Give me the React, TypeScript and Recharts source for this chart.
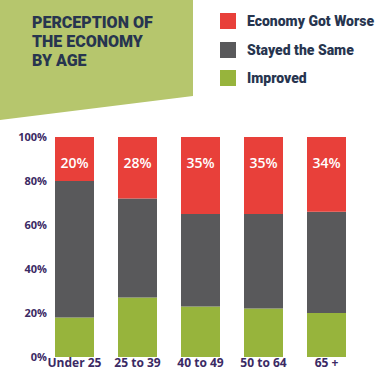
import { BarChart, Bar, XAxis, YAxis, LabelList } from 'recharts'

const ageGroups = ['Under 25', '25 to 39', '40 to 49', '50 to 64', '65 +']
const improved = [18, 27, 23, 22, 20]
const stayedSame = [62, 45, 42, 43, 46]
const gotWorse = [20, 28, 35, 35, 34]
const yTicks = [0, 20, 40, 60, 80, 100]

const legendItems = [
  { label: 'Economy Got Worse', color: '#e8403a' },
  { label: 'Stayed the Same', color: '#59595b' },
  { label: 'Improved', color: '#97b43c' },
]

const data = ageGroups.map((age, i) => ({
  age,
  improved: improved[i],
  same: stayedSame[i],
  worse: gotWorse[i],
}))

const navy = '#27354f'
const purple = '#3b2a64'

export default function App() {
  return (
    <div
      style={{
        position: 'absolute',
        left: 0,
        top: 0,
        width: 376,
        height: 371,
        background: '#fff',
        overflow: 'hidden',
      }}
    >
      {/* slanted green title panel */}
      <svg width={376} height={130} style={{ position: 'absolute', left: 0, top: 0 }}>
        <polygon points="0,0 193,0 193,96 0,120" fill="#b6c66d" />
      </svg>
      <div
        style={{
          position: 'absolute',
          left: 32,
          top: 13,
          fontFamily: 'Roboto, sans-serif',
          fontWeight: 900,
          fontSize: 16,
          lineHeight: '19px',
          color: navy,
        }}
      >
        PERCEPTION OF
        <br />
        THE ECONOMY
        <br />
        BY AGE
      </div>

      {legendItems.map((item, i) => (
        <div
          key={item.label}
          style={{
            position: 'absolute',
            left: 220,
            top: 13 + i * 28.5,
            display: 'flex',
            alignItems: 'center',
            fontFamily: 'Roboto, sans-serif',
            fontWeight: 900,
            fontSize: 14,
            color: navy,
          }}
        >
          <span
            style={{
              width: 16,
              height: 16,
              background: item.color,
              display: 'inline-block',
              marginRight: 11,
            }}
          />
          {item.label}
        </div>
      ))}

      <div style={{ position: 'absolute', left: 0, top: 0 }}>
        <BarChart
          width={376}
          height={371}
          data={data}
          margin={{ top: 137, right: 18, bottom: 0, left: 0 }}
          barSize={39}
        >
          <XAxis
            dataKey="age"
            axisLine={false}
            tickLine={false}
            tickSize={0}
            tickMargin={1}
            height={14}
            interval={0}
            tick={{ fill: purple, fontSize: 12, fontWeight: 700, fontFamily: '"Open Sans", sans-serif' }}
          />
          <YAxis
            domain={[0, 100]}
            ticks={yTicks}
            width={43}
            axisLine={false}
            tickLine={false}
            tickSize={0}
            tickMargin={0}
            tickFormatter={(v) => `${v}%`}
            tick={{ fill: purple, fontSize: 11, fontWeight: 700, fontFamily: '"Open Sans", sans-serif', dx: 4 }}
          />
          <Bar dataKey="improved" stackId="a" fill="#97b43c" isAnimationActive={false} />
          <Bar dataKey="same" stackId="a" fill="#59595b" isAnimationActive={false} />
          <Bar dataKey="worse" stackId="a" fill="#e8403a" isAnimationActive={false}>
            <LabelList
              dataKey="worse"
              position="insideTop"
              offset={21}
              formatter={(v: number) => `${v}%`}
              fill="#fff"
              fontSize={14}
              fontWeight={600}
              fontFamily='"Open Sans", sans-serif'
            />
          </Bar>
        </BarChart>
      </div>
    </div>
  )
}
